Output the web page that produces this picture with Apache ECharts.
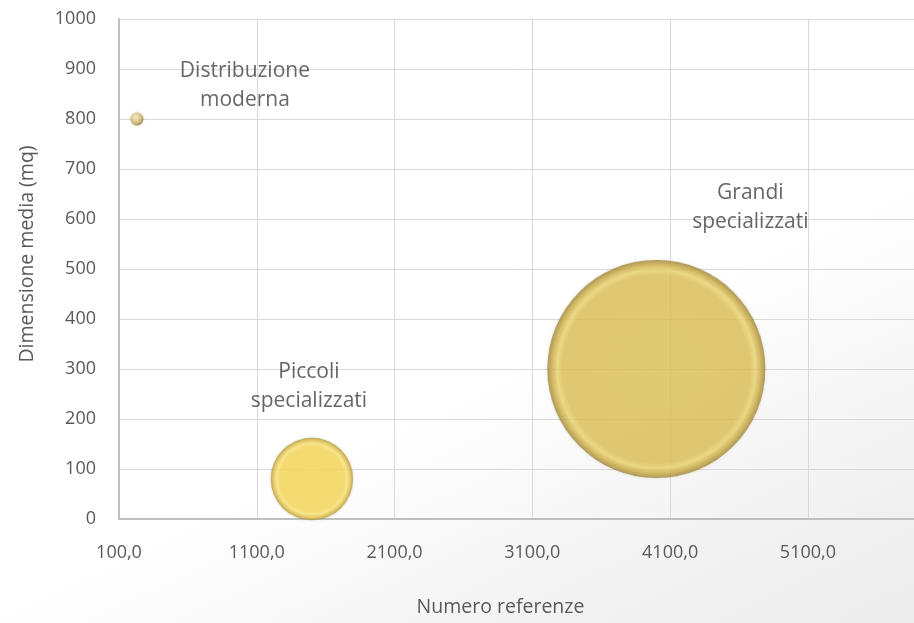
<!DOCTYPE html>
<html>
<head>
<meta charset="utf-8">
<script src="https://cdn.jsdelivr.net/npm/echarts@6/dist/echarts.min.js"></script>
<style>
  html, body { margin: 0; padding: 0; }
  #chart {
    width: 914px; height: 623px;
    background: linear-gradient(155deg, #ffffff 0%, #ffffff 58%, #f3f3f3 82%, #ececec 100%);
  }
</style>
</head>
<body>
<div id="chart"></div>
<script>
// Formati distributivi: numero referenze vs dimensione media del punto vendita
const categories = ['Distribuzione\nmoderna', 'Piccoli\nspecializzati', 'Grandi\nspecializzati'];
const numeroReferenze = [230, 1500, 4000];
const dimensioneMedia = [800, 80, 300];
const bubbleSizes = [1, 40, 280];

// Bubble area proportional to size; largest bubble diameter in px
const MAX_DIAMETER = 218;
const maxSize = Math.max(...bubbleSizes);

// Per-bubble shading (glossy gold look) and label placement
const bubbleStyles = [
  { type: 'radial', x: 0.42, y: 0.38, r: 0.6, colorStops: [
      { offset: 0, color: '#F7EDC4' }, { offset: 0.45, color: '#E2CE8C' },
      { offset: 0.8, color: '#C2A65E' }, { offset: 1, color: '#8E7638' } ] },
  { type: 'radial', x: 0.5, y: 0.5, r: 0.5, colorStops: [
      { offset: 0, color: '#FADB5A' }, { offset: 0.78, color: '#F9DA58' },
      { offset: 0.86, color: '#FDE87C' }, { offset: 0.94, color: '#E2C24C' },
      { offset: 1, color: '#B39535' } ] },
  { type: 'radial', x: 0.5, y: 0.5, r: 0.5, colorStops: [
      { offset: 0, color: '#E1C55C' }, { offset: 0.86, color: '#E0C35A' },
      { offset: 0.91, color: '#EED772' }, { offset: 0.96, color: '#CDAE48' },
      { offset: 1, color: '#A08638' } ] }
];
const labelOffsets = [[108, -33], [-3, -92], [94, -161]];

const seriesData = categories.map((name, i) => ({
  name: name,
  value: [numeroReferenze[i], dimensioneMedia[i], bubbleSizes[i]],
  itemStyle: { color: bubbleStyles[i] },
  label: { offset: labelOffsets[i] }
}));

const chart = echarts.init(document.getElementById('chart'), null, { renderer: 'canvas' });

const tickColor = '#595959';
const tickFont = '"Open Sans", sans-serif';
const titleStyle = { color: '#595959', fontSize: 19.5, fontFamily: '"Open Sans", sans-serif' };

chart.setOption({
  backgroundColor: 'transparent',
  animation: false,
  grid: { left: 119, right: 0, top: 19, bottom: 104, containLabel: false },
  xAxis: {
    type: 'value',
    min: 100,
    max: 5870,
    interval: 1000,
    name: 'Numero referenze',
    nameLocation: 'middle',
    nameGap: 78,
    nameTextStyle: Object.assign({ padding: [0, 32, 0, 0] }, titleStyle),
    axisLine: { show: true, lineStyle: { color: '#BFBFBF', width: 2 } },
    axisTick: { show: false },
    splitLine: { show: true, lineStyle: { color: '#D9D9D9', width: 1 } },
    axisLabel: {
      margin: 25,
      color: tickColor,
      fontSize: 18,
      fontFamily: tickFont,
      showMaxLabel: false,
      formatter: v => ((v - 100) % 1000 === 0 ? v.toFixed(1).replace('.', ',') : '')
    }
  },
  yAxis: {
    type: 'value',
    min: 0,
    max: 1000,
    interval: 100,
    name: 'Dimensione media (mq)',
    nameLocation: 'middle',
    nameGap: 82,
    nameRotate: 90,
    nameTextStyle: Object.assign({ padding: [0, 0, 0, 30] }, titleStyle),
    axisLine: { show: true, lineStyle: { color: '#BFBFBF', width: 2 } },
    axisTick: { show: false },
    splitLine: { show: true, lineStyle: { color: '#D9D9D9', width: 1 } },
    axisLabel: {
      margin: 23,
      color: tickColor,
      fontSize: 18,
      fontFamily: tickFont,
      formatter: v => String(v)
    }
  },
  series: [{
    type: 'scatter',
    data: seriesData,
    symbol: 'circle',
    symbolSize: v => MAX_DIAMETER * Math.sqrt(v[2] / maxSize),
    itemStyle: { shadowBlur: 3, shadowColor: 'rgba(90,70,20,0.25)' },
    label: {
      show: true,
      position: 'inside',
      formatter: p => p.name,
      color: '#404040',
      fontSize: 21,
      lineHeight: 29,
      fontFamily: '"Open Sans", sans-serif',
      align: 'center'
    },
    emphasis: { disabled: true }
  }]
});
</script>
</body>
</html>
